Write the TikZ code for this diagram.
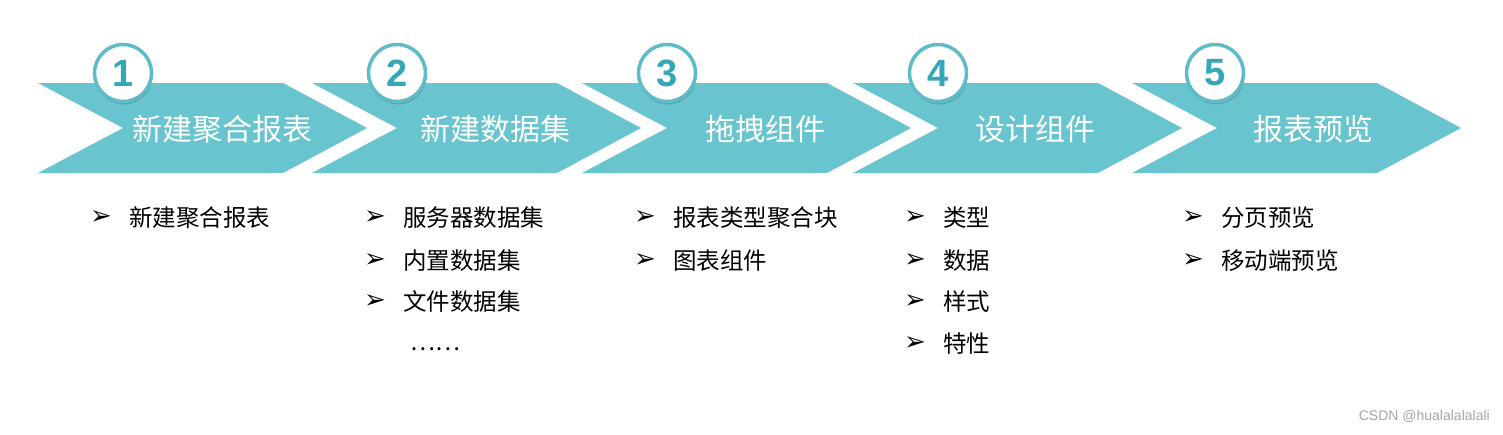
\documentclass[tikz,border=0pt]{standalone}
\usepackage{fontspec}
\setmainfont{Liberation Sans}
\newfontfamily\cjk{Noto Sans CJK SC}
\newfontfamily\sym{DejaVu Sans}
\usetikzlibrary{shadows}
\definecolor{chev}{HTML}{68C4CF}
\definecolor{ring}{HTML}{5DBCC8}
\definecolor{num}{HTML}{34A8B7}
\tikzset{
  chevron/.style={fill=chev, draw=none},
  badge/.style={circle, fill=white, draw=ring, line width=3.5pt, minimum size=57pt, inner sep=0pt,
    drop shadow={shadow xshift=1pt, shadow yshift=-3pt, opacity=0.35, fill=black!60},
    font=\bfseries\fontsize{38}{38}\selectfont, text=num},
  title/.style={text=white, font=\cjk\fontsize{30}{30}\selectfont, inner sep=0pt},
  item/.style={anchor=west, font=\cjk\fontsize{23.5}{23.5}\selectfont, inner sep=0pt},
  bul/.style={font=\sym\fontsize{26}{26}\selectfont, inner sep=0pt},
  wm/.style={text=black!35, font=\fontsize{14}{14}\selectfont, inner sep=0pt}
}
\newcommand\itm[4]{%
  \node[bul] (b#4) at (#1,#2) {➢};
  \node[item] (i#4) at (#1+28,#2) {#3};}
\begin{document}
\begin{tikzpicture}[x=1pt,y=-1pt]
\useasboundingbox (0,0) rectangle (1503,434);
% chevrons
\foreach \x [count=\i] in {38,312,582,853,1132}{
  \fill[chevron] (\x,83) -- (\x+245,83) -- (\x+329,128) -- (\x+245,173) -- (\x,173) -- (\x+85,128) -- cycle;
}
% titles
\node[title] (t1) at (222,129) {新建聚合报表};
\node[title] (t2) at (495,129) {新建数据集};
\node[title] (t3) at (765,129) {拖拽组件};
\node[title] (t4) at (1035,129) {设计组件};
\node[title] (t5) at (1313,129) {报表预览};
% badges
\node[badge] (n1) at (123,73) {1};
\node[badge] (n2) at (397,73) {2};
\node[badge] (n3) at (667,73) {3};
\node[badge] (n4) at (938,73) {4};
\node[badge] (n5) at (1215,73) {5};
% items
\itm{101}{218}{新建聚合报表}{11}
\itm{375}{218}{服务器数据集}{21}
\itm{375}{261}{内置数据集}{22}
\itm{375}{302}{文件数据集}{23}
\node[item] (dots) at (410,349) {……};
\itm{645}{218}{报表类型聚合块}{31}
\itm{645}{261}{图表组件}{32}
\itm{915}{218}{类型}{41}
\itm{915}{261}{数据}{42}
\itm{915}{302}{样式}{43}
\itm{915}{344}{特性}{44}
\itm{1193}{218}{分页预览}{51}
\itm{1193}{261}{移动端预览}{52}
\node[wm, anchor=east] (w) at (1490,416) {CSDN @hualalalalali};
\end{tikzpicture}
\end{document}
